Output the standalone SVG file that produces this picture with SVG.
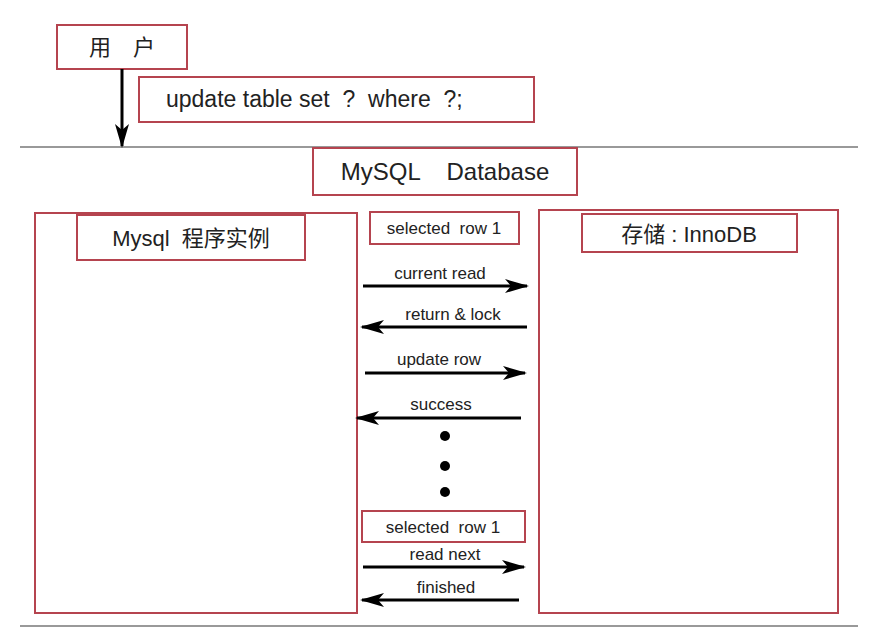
<svg xmlns="http://www.w3.org/2000/svg" width="891" height="638" viewBox="0 0 891 638" xml:space="preserve">
<style>
.b{fill:#fff;stroke:#b5444f;stroke-width:2}
.t{font-family:"Liberation Sans","Noto Sans CJK SC",sans-serif;fill:#222;white-space:pre}
.c{stroke:#000;stroke-width:3;fill:none;marker-end:url(#ah)}
.h{stroke:#999;stroke-width:2}
</style>
<defs><marker id="ah" viewBox="0 0 24 14" refX="22" refY="7" markerWidth="24" markerHeight="14" markerUnits="userSpaceOnUse" orient="auto"><path d="M0,0 L24,7 L0,14 L6,7 Z" fill="#000"/></marker></defs>
<rect width="891" height="638" fill="#fff"/>
<line class="h" x1="20" y1="147" x2="858" y2="147"/>
<line class="h" x1="20" y1="626" x2="858" y2="626"/>
<g id="user"><rect class="b" x="57" y="25" width="130" height="44"/><text class="t" x="122" y="55" font-size="22" text-anchor="middle">用　户</text></g>
<g id="sql"><rect class="b" x="139" y="77" width="395" height="45"/><text class="t" x="166" y="107" font-size="23">update table set  ?  where  ?;</text></g>
<g id="db"><rect class="b" x="313" y="148" width="264" height="47"/><text class="t" x="445" y="180" font-size="24" text-anchor="middle">MySQL    Database</text></g>
<g id="inst"><rect class="b" x="35" y="213" width="322" height="400"/><rect class="b" x="77" y="215" width="228" height="45"/><text class="t" x="191" y="246" font-size="22" text-anchor="middle">Mysql  程序实例</text></g>
<g id="inno"><rect class="b" x="539" y="210" width="299" height="403"/><rect class="b" x="582" y="214" width="215" height="38"/><text class="t" x="689" y="242" font-size="22" text-anchor="middle">存储 : InnoDB</text></g>
<g id="sel1"><rect class="b" x="370" y="212" width="149" height="32"/><text class="t" x="444" y="234" font-size="17" text-anchor="middle">selected  row 1</text></g>
<g id="sel2"><rect class="b" x="362" y="511" width="163" height="31"/><text class="t" x="443" y="533" font-size="17" text-anchor="middle">selected  row 1</text></g>
<g id="dots" fill="#000"><circle cx="445" cy="436" r="5"/><circle cx="445" cy="466" r="5"/><circle cx="445" cy="492" r="5"/></g>
<g id="connectors">
<line class="c" x1="122" y1="69" x2="122" y2="146"/>
<line class="c" x1="363" y1="286" x2="527" y2="286"/>
<line class="c" x1="527" y1="327" x2="362" y2="327"/>
<line class="c" x1="365" y1="373" x2="525" y2="373"/>
<line class="c" x1="521" y1="418" x2="357" y2="418"/>
<line class="c" x1="363" y1="567" x2="524" y2="567"/>
<line class="c" x1="519" y1="600" x2="362" y2="600"/>
</g>
<g class="t" font-size="17" text-anchor="middle">
<text x="440" y="279">current read</text>
<text x="453" y="320">return  &amp;  lock</text>
<text x="439" y="365">update  row</text>
<text x="441" y="410">success</text>
<text x="445" y="560">read   next</text>
<text x="446" y="593">finished</text>
</g>
</svg>
